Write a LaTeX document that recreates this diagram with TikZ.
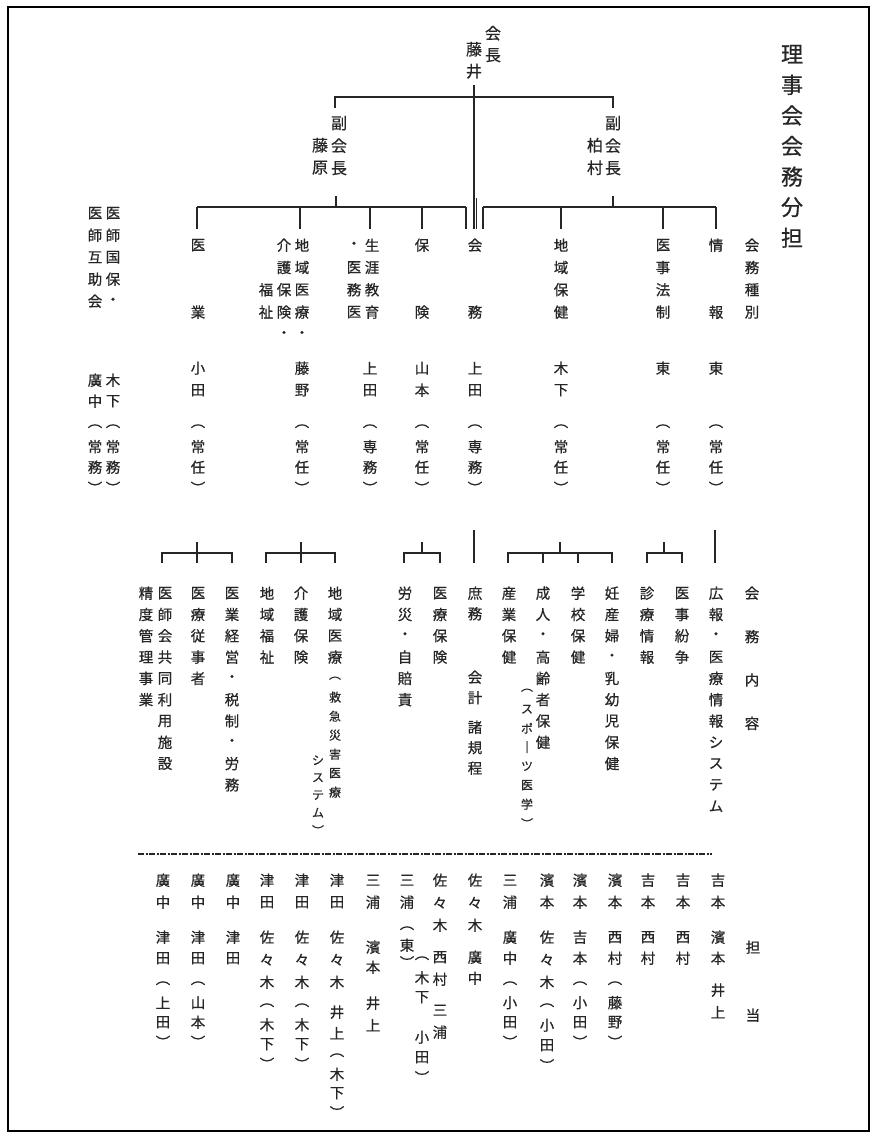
\documentclass[tikz,border=0pt]{standalone}
\usepackage{fontspec}
\newfontfamily\cjk[FakeBold=0.6]{Noto Sans CJK JP}
\newdimen\vtpitch
\def\vtend{vtend-marker}
\def\vtloop#1{\ifx#1\vtend\else\hbox to 1.2em{\hss\vbox to\vtpitch{\vss\hbox{#1}\vss}\hss}\expandafter\vtloop\fi}
\newcommand\vtstack[2]{\vtpitch=#1pt\vbox{\offinterlineskip\vtloop#2\vtend}}
\newcommand\vcol[6][]{\node[vt,#1] (#2) at (#3,{#4-#5/2}) {\vtstack{#5}{#6}};}
\tikzset{
  vt/.style={inner sep=0pt, anchor=north, text=black!85, font=\fontsize{14.5}{14.5}\selectfont\cjk},
  vsm/.style={font=\fontsize{12}{12}\selectfont\cjk},
  vbig/.style={font=\fontsize{16}{16}\selectfont\cjk},
  vtitle/.style={font=\fontsize{22}{22}\selectfont\cjk},
  link/.style={line width=1.2pt, draw=black!85},
  tick/.style={line width=2pt, draw=black!85},
}
\begin{document}
\begin{tikzpicture}[x=1pt,y=-1pt]
\useasboundingbox (0,0) rectangle (877,1140);
\draw[line width=1.4pt] (8,7) rectangle (869,1131);

% title
\vcol[vtitle]{title}{792}{54}{30.6}{理事会会務分担}

% top
\vcol[vbig]{kaicho}{493}{33}{22}{会長}
\vcol[vbig]{fujii}{474}{49}{22}{藤井}
\vcol[vbig]{fuku1}{339}{123}{22.5}{副会長}
\vcol[vbig]{fujiwara}{320}{145}{22.5}{藤原}
\vcol[vbig]{fuku2}{613}{123}{22.5}{副会長}
\vcol[vbig]{kashimura}{595}{145}{22.5}{柏村}

% top connectors
\coordinate (c0) at (474,85);
\draw[link] (c0) -- (474,229);
\draw[link] (476.5,198) -- (476.5,229);
\draw[link] (335,108) -- (335,97) -- (613,97) -- (613,108);
\draw[link] (336,196) -- (336,207);
\draw[link] (613,196) -- (613,207);
\draw[link] (197,207) -- (466,207);
\draw[link] (483,207) -- (716,207);
\foreach \x in {197,300,370,466} \draw[tick] (\x,207) -- (\x,229);
\draw[link] (422,207) -- (422,229);
\foreach \x in {483,716} \draw[tick] (\x,207) -- (\x,229);
\foreach \x in {561,663} \draw[link] (\x,207) -- (\x,229);

% header row
\vcol{hkind}{752}{245}{22.3}{会務種別}
\vcol{h1a}{716}{245}{22.3}{情　　報}
\vcol{h1b}{716}{368}{22}{東}
\vcol{h1c}{716}{426}{20.5}{︵常任︶}
\vcol{h2a}{663}{245}{22.3}{医事法制}
\vcol{h2b}{663}{368}{22}{東}
\vcol{h2c}{663}{426}{20.5}{︵常任︶}
\vcol{h3a}{561}{245}{22.3}{地域保健}
\vcol{h3b}{561}{368}{22}{木下}
\vcol{h3c}{561}{426}{20.5}{︵常任︶}
\vcol{h4a}{475}{245}{22.3}{会　　務}
\vcol{h4b}{475}{368}{22}{上田}
\vcol{h4c}{475}{426}{20.5}{︵専務︶}
\vcol{h5a}{422}{245}{22.3}{保　　険}
\vcol{h5b}{422}{368}{22}{山本}
\vcol{h5c}{422}{426}{20.5}{︵常任︶}
\vcol{h6a}{372}{245}{22.3}{生涯教育}
\vcol{h6d}{354}{245}{22.3}{・医務医}
\vcol{h6b}{370}{368}{22}{上田}
\vcol{h6c}{370}{426}{20.5}{︵専務︶}
\vcol{h7a}{302}{245}{22.3}{地域医療・}
\vcol{h7d}{284}{245}{22.3}{介護保険・}
\vcol{h7e}{266}{289.6}{22.3}{福祉}
\vcol{h7b}{302}{368}{22}{藤野}
\vcol{h7c}{302}{426}{20.5}{︵常任︶}
\vcol{h8a}{198}{245}{22.3}{医　　業}
\vcol{h8b}{198}{368}{22}{小田}
\vcol{h8c}{198}{426}{20.5}{︵常任︶}
\vcol{h9a}{113}{213}{22}{医師国保・}
\vcol{h9d}{95}{213}{22}{医師互助会}
\vcol{h9b}{113}{380}{21}{木下}
\vcol{h9e}{95}{380}{21}{廣中}
\vcol{h9c}{113}{426}{20.5}{︵常務︶}
\vcol{h9f}{95}{426}{20.5}{︵常務︶}

% content brackets
\draw[link] (162,563) -- (162,553) -- (232,553) -- (232,563);
\draw[tick] (197,542) -- (197,563);
\draw[link] (266,563) -- (266,553) -- (335,553) -- (335,563);
\draw[tick] (301,542) -- (301,563);
\draw[link] (404,563) -- (404,553) -- (440,553) -- (440,563);
\draw[link] (422,542) -- (422,553);
\draw[link] (474,530) -- (474,563);
\draw[link] (508,563) -- (508,553) -- (612,553) -- (612,563);
\draw[link] (560,542) -- (560,553);
\foreach \x in {508,543,578} \draw[tick] (\x,553) -- (\x,563);
\draw[link] (647,563) -- (647,553) -- (682,553) -- (682,563);
\draw[link] (664,542) -- (664,553);
\foreach \x in {647,682} \draw[tick] (\x,553) -- (\x,563);
\draw[line width=2.4pt, draw=black!85] (715,530) -- (715,563);

% content
\vcol{ctitle}{752}{593}{43.4}{会務内容}
\vcol{c1}{716}{593}{21.3}{広報・医療情報システム}
\vcol{c2}{682}{593}{21.3}{医事紛争}
\vcol{c3}{647}{593}{21.3}{診療情報}
\vcol{c4}{612}{593}{21.3}{妊産婦・乳幼児保健}
\vcol{c5}{578}{593}{21.3}{学校保健}
\vcol{c6}{543}{593}{21.3}{成人・高齢者保健}
\vcol[vsm]{c6b}{527}{690}{19}{︵スポ｜ツ医学︶}
\vcol{c7}{509}{593}{21.3}{産業保健}
\vcol{c8a}{475}{593}{20.5}{庶務}
\vcol{c8b}{475}{677}{20.5}{会計}
\vcol{c8c}{475}{727}{20.5}{諸規程}
\vcol{c9}{440}{593}{21.3}{医療保険}
\vcol{c10}{405}{593}{21.3}{労災・自賠責}
\vcol{c11}{335}{593}{21.3}{地域医療}
\vcol[vsm]{c11b}{335}{678}{19}{︵救急災害医療}
\vcol[vsm]{c11c}{318}{760}{17.5}{システム︶}
\vcol{c12}{301}{593}{21.3}{介護保険}
\vcol{c13}{267}{593}{21.3}{地域福祉}
\vcol{c14}{232}{593}{21.3}{医業経営・税制・労務}
\vcol{c15}{198}{593}{21.3}{医療従事者}
\vcol{c16}{165}{593}{21.3}{医師会共同利用施設}
\vcol{c17}{146}{593}{21.3}{精度管理事業}

% dashed separator
\coordinate (dl) at (138,854);
\coordinate (dr) at (712,854);
\draw[line width=2.2pt, draw=black!85, dash pattern=on 6pt off 1.5pt on 2pt off 1.5pt] (dl) -- (dr);

% bottom
\vcol{btitle}{753}{947}{68}{担当}
\vcol{b1a}{718}{880}{22}{吉本}
\vcol{b1b}{718}{937}{21}{濱本}
\vcol{b1c}{718}{990}{22}{井上}
\vcol{b2a}{683}{880}{22}{吉本}
\vcol{b2b}{683}{937}{21}{西村}
\vcol{b3a}{648}{880}{22}{吉本}
\vcol{b3b}{648}{937}{21}{西村}
\vcol{b4a}{615}{880}{22}{濱本}
\vcol{b4b}{615}{937}{21}{西村}
\vcol{b4c}{615}{983}{19.5}{︵藤野︶}
\vcol{b5a}{580}{880}{22}{濱本}
\vcol{b5b}{580}{937}{21}{吉本}
\vcol{b5c}{580}{983}{19.5}{︵小田︶}
\vcol{b6a}{547}{880}{22}{濱本}
\vcol{b6b}{547}{937}{22.5}{佐々木}
\vcol{b6c}{547}{1005}{20}{︵小田︶}
\vcol{b7a}{510}{880}{22}{三浦}
\vcol{b7b}{510}{937}{21}{廣中}
\vcol{b7c}{510}{983}{19.5}{︵小田︶}
\vcol{b8a}{475}{880}{22.5}{佐々木}
\vcol{b8b}{475}{957}{21}{廣中}
\vcol{b9a}{440}{880}{22.5}{佐々木}
\vcol{b9b}{440}{957}{22}{西村}
\vcol{b9c}{440}{1010}{22}{三浦}
\vcol{b9d}{422}{958}{19.5}{︵木下}
\vcol{b9e}{422}{1037}{20}{小田︶}
\vcol{b10a}{407}{880}{22}{三浦}
\vcol{b10b}{407}{928}{17}{︵東︶}
\vcol{b11a}{373}{880}{22}{三浦}
\vcol{b11b}{373}{947}{20}{濱本}
\vcol{b11c}{373}{1003}{22}{井上}
\vcol{b12a}{337}{880}{22}{津田}
\vcol{b12b}{337}{937}{22.5}{佐々木}
\vcol{b12c}{337}{1012}{21}{井上}
\vcol{b12d}{337}{1055}{19}{︵木下︶}
\vcol{b13a}{302}{880}{22}{津田}
\vcol{b13b}{302}{937}{22.5}{佐々木}
\vcol{b13c}{302}{1005}{19.5}{︵木下︶}
\vcol{b14a}{267}{880}{22}{津田}
\vcol{b14b}{267}{937}{22.5}{佐々木}
\vcol{b14c}{267}{1005}{19.5}{︵木下︶}
\vcol{b15a}{233}{880}{22}{廣中}
\vcol{b15b}{233}{937}{21}{津田}
\vcol{b16a}{198}{880}{22}{廣中}
\vcol{b16b}{198}{937}{21}{津田}
\vcol{b16c}{198}{983}{19.5}{︵山本︶}
\vcol{b17a}{163}{880}{22}{廣中}
\vcol{b17b}{163}{937}{21}{津田}
\vcol{b17c}{163}{983}{19.5}{︵上田︶}
\end{tikzpicture}
\end{document}
